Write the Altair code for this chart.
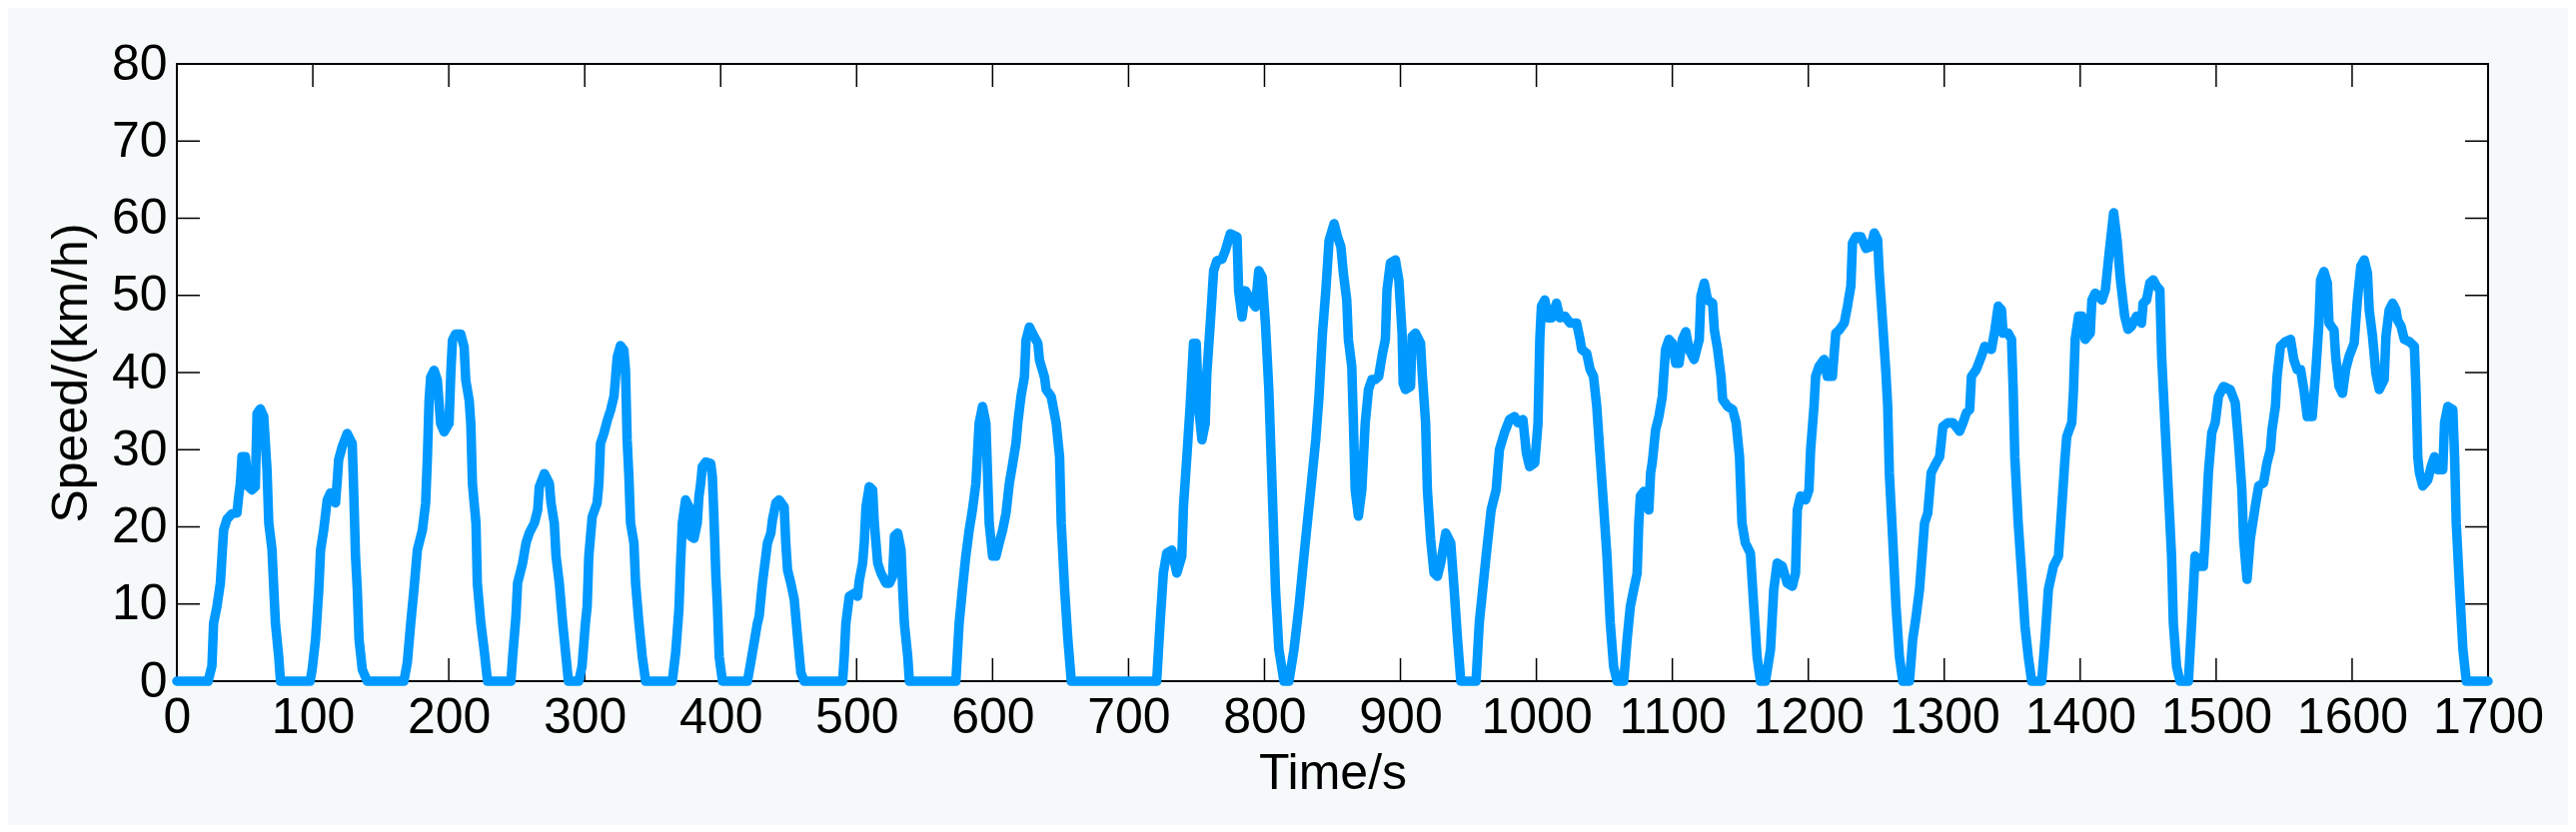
import altair as alt
import pandas as pd

# ---- data (time in s, speed in km/h) ----
TIME = [
    0, 23, 25.8, 27, 29.5, 32, 33.2, 34.4, 36.9, 40.5, 44.2, 45.5, 46.7, 47.9, 50.4, 52.8, 55.3, 57.7, 59, 61.4,
    63.9, 66.3, 67.6, 70, 71.3, 72.5, 74.9, 76.2,
    98, 99.5, 102, 104.4, 105.7, 108, 110.6, 113, 116.7, 118, 119, 121.6, 125.3, 129, 130.2, 131.4, 132.7, 134,
    136.4, 140,
    167, 169.5, 172, 174.4, 176.9, 180.6, 183, 184.3, 185.5, 186.7, 189.2, 191.6, 194, 196.6, 200.2, 201.5, 202.7,
    205, 208.8, 211.3, 212.5, 215, 216.2, 217.4, 220, 221, 223.6, 226, 228.5,
    245.7, 247, 249.4, 250.6, 254.3, 256.8, 259.2, 263, 265.4, 266.6, 270.3, 274, 275.2, 277.6, 278.9, 281.3,
    283.8, 286.2, 288,
    295.6, 298, 300.5, 301.8, 303, 305.5, 309.1, 310.4, 311.6, 314.1, 316.6, 319, 321.5, 322.7, 323.9, 326.3,
    328.8, 330, 331.2, 332.5, 333.7, 336.2, 337.4, 339.9, 342.3, 344.8,
    364.4, 366.9, 369.3, 370.5, 371.8, 374.2, 376.7, 377.9, 380.4, 382.8, 384, 385.3, 386.5, 389, 392.7, 393.9,
    395.2, 396.4, 397.6, 398.9, 401.3,
    419.7, 422.1, 424.6, 427, 428.3, 430.7, 433.2, 434.4, 436.9, 438.1, 440.6, 443, 446.7, 447.9, 449.2, 451.6,
    454.1, 456.5, 459, 461.4,
    489.7, 490.9, 492.1, 494.6, 498.3, 500.7, 502, 504.4, 505.6, 506.9, 509.3, 511.8, 513, 515.5, 517.9, 521.6,
    524.1, 526.5, 527.8, 530.2, 532.7, 533.9, 535.1, 537.6, 538.8,
    573, 575.4, 577.8, 580.3, 582.8, 585.2, 587.7, 590.1, 592.6, 595.1, 596.3, 597.5, 600, 602.5, 604.9, 607.4,
    609.9, 612.3, 614.8, 617.2, 618.5, 620.9, 623.4, 624.6, 627.1, 629.6, 633.3, 634.5, 638.2, 639.4, 643.1,
    646.8, 649.3, 650.5, 653, 655.4, 657.9,
    720.7, 723.2, 725.6, 728.1, 731.8, 735.5, 739.2, 740.4, 742.9, 745.3, 747.8, 749.8, 751.5, 754, 756.4, 757.6,
    760.1, 762.6, 765, 768.7, 771.2, 774.9, 779.8, 781, 783.5, 786, 789.7, 793.3, 795.8, 798.3, 800.7, 803.2,
    805.7, 808.1, 810.6, 814.3, 818, 821.7, 825.4, 829, 831.5, 834, 837.7, 840.1, 842.6, 845.1, 847.5, 851.2,
    853.7, 856.2,
    858, 860.5, 861.7, 864.2, 865.4, 866.7, 869.1, 871.6, 874.1, 876.5, 879, 881.5, 884, 886.4, 888.9, 890.1,
    892.6, 896.3, 898.8, 901.2, 902, 903.7, 907.4, 908.6, 911.1, 914.8, 916, 918.5, 919.8, 922.2, 924.7, 927.2,
    929.6, 933.3, 937, 939.5, 942, 944.4, 955.6, 958, 963, 966.7, 970.4, 972.8, 976.5, 980.2, 983.9, 986.4,
    990.1, 992.6, 995, 998.8, 1001.2, 1002.5, 1003.7, 1006.2, 1008.6, 1011.1, 1014.8, 1017.3, 1021, 1024.7,
    1029.6, 1032.1, 1033.3, 1037, 1039.5, 1042, 1044.4, 1046.9, 1049.4, 1051.9, 1054.3, 1056.8, 1059.3, 1064.2,
    1066.7, 1069.1, 1071.6, 1074.1, 1075.3, 1076.5, 1079, 1082.7, 1084, 1085.2, 1087.7, 1090.1, 1092.6, 1095,
    1097.5, 1100, 1102.5, 1104.9, 1107.4, 1109.9, 1112.3, 1116, 1119.8, 1121, 1123.5, 1125.9, 1129.6, 1130.9,
    1133.3, 1135.8, 1137, 1140.7, 1144.4, 1146.9, 1149.4,
    1151.2, 1153.7, 1157.4, 1159.9, 1162.3, 1164.8, 1168.5, 1172.2, 1174.6, 1177.1, 1180.8, 1184.5, 1188.2,
    1190.6, 1191.9, 1194.3, 1198, 1200.5, 1201.7, 1204.2, 1205.4, 1207.9, 1211.6, 1214, 1217.7, 1220.2, 1222.7,
    1226.4, 1228.8, 1231.3, 1232.5, 1235, 1238.7, 1242.4, 1246.1, 1248.5, 1251, 1252.2, 1254.7, 1257.1, 1258.4,
    1259.6, 1262.1, 1264.5, 1267, 1269.5, 1274.4, 1276.8, 1279.3, 1281.8, 1285.5, 1287.9, 1290.4, 1292.9,
    1296.6, 1299, 1302.7, 1306.4, 1311.3, 1313.8, 1316.3, 1318.7, 1320, 1323.6, 1327.3, 1329.8, 1334.7, 1337.2,
    1339.7, 1342.1, 1343.3, 1347, 1349.5, 1350.7, 1351.9, 1354.4, 1356.9, 1359.4, 1361.8, 1364.3, 1371.7,
    1374.1, 1376.6, 1380.3, 1384, 1386.5, 1388.9, 1390.1, 1393.8, 1395.1, 1396.3, 1398.8, 1401.2, 1403.7,
    1407.4, 1408.6, 1411.1, 1416, 1418.5, 1421, 1424.6, 1427.1, 1429.6,
    1432.7, 1435.2, 1437.7, 1441.4, 1445.1, 1446.3, 1448.8, 1451.2, 1453.7, 1456.2, 1458.6, 1459.9, 1462.3,
    1464.8, 1467.2, 1468.5, 1470.9, 1473.4, 1479.6, 1482, 1484.5, 1486.9, 1490.6, 1491.9, 1494.3, 1496.8,
    1499.3, 1501.7, 1505.4, 1510.3, 1514, 1516.5, 1518.9, 1520.2, 1522.7, 1525.1, 1528.8, 1531.3, 1534.9,
    1537.4, 1539.9, 1541.1, 1543.6, 1544.8, 1547.3, 1551, 1554.7, 1557.1, 1559.6, 1562.1, 1564.5, 1567, 1570.7,
    1573.2, 1575.6, 1576.8, 1579.3, 1581.8, 1583, 1586.7, 1587.9, 1590.4, 1592.9, 1595.3, 1597.8, 1601.5,
    1603.9, 1606.4, 1608.9, 1611.3, 1612.6, 1615, 1617.5, 1620, 1623.6, 1624.9, 1627.3, 1629.8, 1632.3, 1633.5,
    1636, 1638.4, 1642.1, 1645.8, 1647, 1648.3, 1649.5, 1652, 1655.7, 1658.1, 1660.6, 1663.1, 1666.7, 1668,
    1670.4, 1674.1, 1675.4, 1676.6, 1679.1, 1681.5, 1684, 1700,
]

SPEED = [
    0, 0, 2, 7.5, 9.7, 12.7, 16.2, 19.6, 21, 21.7, 21.8, 24, 25.6, 29.1, 29.1, 25.2, 24.8, 25.2, 34.7, 35.3,
    34.3, 27.4, 20.5, 17, 11.9, 7.5, 3.2, 0,
    0, 1.5, 5.4, 11.9, 17, 19.6, 23.5, 24.4, 23.1, 26.1, 28.7, 30.4, 32.1, 30.8, 23.9, 16.2, 11.9, 5.4,
    1.5, 0,
    0, 2.4, 7.5, 11.9, 17, 19.6, 23.1, 29.1, 36.4, 39.4, 40.3, 39, 33.4, 32.3, 33.4, 39.9, 44.2,
    45, 45, 43.3, 39, 36.4, 33.4, 25.6, 20.5, 12.7, 7.5, 4.1, 0,
    0, 3.2, 8.4, 12.7, 15.3, 17.9, 19.2, 20.5, 22.2, 25.2, 26.9, 25.6, 23.1, 20.5, 16.2, 12.7,
    7.5, 3.2, 0,
    0, 1.9, 7.5, 9.7, 16.2, 21.3, 23.1, 25.6, 30.8, 32.1, 33.8, 35.1, 36.9, 39.4, 42, 43.5,
    42.9, 40.3, 31.3, 26.5, 20.5, 17.9, 12.7, 7.5, 3.2, 0,
    0, 3.7, 9.3, 15.3, 20.5, 23.5, 22.6, 18.8, 18.5, 20.5, 23.9, 25.6, 27.8, 28.4, 28.2, 26.5,
    20.5, 14, 9.7, 3.2, 0,
    0, 2.4, 5, 7.5, 8.4, 12.7, 16.2, 17.9, 19.2, 20.9, 23.1, 23.5, 22.6, 17.9, 14.4, 12.7,
    10.6, 5.8, 1.1, 0,
    0, 3.2, 7.5, 11, 11.4, 11, 13.1, 15.3, 17.9, 22.6, 25.2, 24.8, 20.5, 15.3, 14, 12.7,
    12.7, 13.6, 18.8, 19.2, 17, 11.9, 7.5, 3.2, 0,
    0, 7.5, 11.9, 16.2, 19.6, 22.2, 25.6, 33.4, 35.6, 33.4, 26.9, 20.5, 16.2, 16.2, 17.9, 19.6,
    21.8, 25.6, 28.2, 30.8, 33.4, 36.9, 39.4, 44.2, 45.9, 45, 43.8, 41.6, 39.4, 37.8, 36.9,
    33.4, 29.1, 20.5, 11.9, 5.4, 0,
    0, 7.5, 14, 16.6, 17, 14, 16.2, 22.6, 29.1, 35.6, 43.8, 43.8, 35.6, 31.3, 33.4, 39.9,
    46.3, 53.2, 54.5, 54.7, 55.8, 58, 57.6, 50.6, 47.2, 50.6, 49.4, 48.5, 53.2, 52.4, 46.3, 37.8,
    24.8, 11.9, 4.1, 0, 0, 4.1, 9.7, 16.2, 20.5, 24.8, 31.3, 36.9, 45, 50.6, 57.1, 59.3,
    57.6, 56.3,
    52.9, 49.4, 44.3, 40.8, 33.5, 24.8, 21.4, 24.8, 33.5, 37.8, 39.1, 39.1, 39.5, 42.1, 44.3, 50.7,
    54.2, 54.6, 52, 45.1, 38.6, 37.8, 38.2, 44.7, 45.1, 43.8, 39.9, 33.5, 24.8, 18.4, 14, 13.6,
    15.3, 19.2, 17.9, 11.9, 5.4, 0, 0, 7.6, 16.2, 22.2, 24.8, 30, 32.2, 33.9, 34.3, 33.5,
    33.9, 29.6, 27.8, 28.3, 33.5, 44.3, 48.6, 49.4, 47.1, 47.1, 49, 47.1, 47.3, 46.4,
    46.4, 44.3, 43, 42.5, 40.4, 39.5, 35.6, 29.1, 22.7, 16.2, 7.6, 1.9, 0, 0,
    5.4, 9.7, 11.9, 14, 20.5, 24, 24.6, 22.2, 27, 28.3, 32.6, 34.3, 36.9, 43,
    44.3, 43.8, 41.2, 41.2, 44.3, 45.3, 43, 41.7, 44.3, 49.9, 51.6, 49.4, 49, 45.5,
    43, 39.5, 36.5, 35.6, 35.2, 33.5, 29.1,
    20.5, 17.9, 16.6, 9.7, 3.2, 0, 0, 4.1, 11.9, 15.3, 14.9, 12.7, 12.3,
    14, 22.2, 24, 23.5, 24.8, 30, 35.6, 39.5, 40.8, 41.7, 39.5, 39.5, 45.1, 45.5,
    46.4, 48.6, 51.2, 56.8, 57.6, 57.6, 56.1, 56.3, 58.1, 57.2, 52.9, 46.4, 39.9, 35.6,
    27, 18.4, 9.7, 3.2, 0, 0, 5.4, 8.4, 11.9, 20.5, 21.8, 27, 27.9,
    29.1, 33, 33.5, 33.5, 32.4, 33.5, 34.8, 35.2, 39.5, 40.4, 42.1, 43.4, 43, 45.5,
    48.6, 48.1, 45.1, 45.1, 44.3, 37.8, 29.1, 20.5, 14, 7.1, 3.2, 0, 0,
    5.4, 11.9, 14.9, 16.2, 22.7, 29.1, 31.7, 33.5, 37.8, 44.3, 47.3, 47.3, 44.3,
    45.1, 49.4, 50.3, 49.4, 50.7, 55, 60.7, 57.2, 52,
    47.3, 45.6, 46, 47.3, 46.4, 49, 49.4, 51.6, 52, 51.2, 50.7, 42.1, 33.5,
    24.8, 16.2, 7.6, 1.9, 0, 0, 7.6, 16.2, 14.9, 14.9, 18.4, 27, 32.2,
    33.5, 36.9, 38.2, 37.8, 36.1, 30.9, 24.8, 18.4, 13.2, 18.4, 22.7, 25.3, 25.7,
    28.3, 30, 32.6, 35.6, 39.5, 43.4, 44, 44.3, 41.7, 40.4, 40.4, 37.8, 34.3, 34.3,
    39.9, 46.4, 52, 53.1, 51.6, 46.4, 45.5, 42.1, 38.2, 37.3, 40.4, 42.1, 43.8,
    49.4, 53.8, 54.6, 52.9, 48.1, 44.7, 39.9, 37.8, 39.1, 44.7, 48.1, 49, 48.1, 46.8,
    46, 44.3, 44, 43.4, 37.8, 29.1, 27, 25.3, 26.1, 27.8, 29.1, 27.4, 27.4, 33.5,
    35.6, 35.2, 29.1, 20.5, 11.9, 4.1, 0, 0,
]

X_TICKS = list(range(0, 1701, 100))
Y_TICKS = list(range(0, 81, 10))

X_TITLE = "Time/s"
Y_TITLE = "Speed/(km/h)"

# ---- layout / style ----
W, H = 2313, 618
TICK_LEN = 23
FONT = "Liberation Sans"
FS = 50
LINE_COLOR = "#0099ff"
PANEL = "#f6f9fa"

df = pd.DataFrame({"t": TIME, "v": SPEED})
xt = pd.DataFrame({"t": X_TICKS})
yt = pd.DataFrame({"v": Y_TICKS})

x_scale = alt.Scale(domain=[0, 1700], nice=False, zero=False)
y_scale = alt.Scale(domain=[0, 80], nice=False)

x_axis = alt.Axis(
    values=X_TICKS, format="d", title=X_TITLE, grid=False, ticks=False, tickSize=0, domain=False,
    labelFontSize=FS, titleFontSize=FS, labelFont=FONT, titleFont=FONT,
    labelColor="black", titleColor="black", titleFontWeight="normal",
    labelBaseline="alphabetic", labelPadding=51, labelOverlap=False, labelFlush=False,
    titleBaseline="alphabetic", titleY=107, titleX=W / 2, titleAlign="center",
    zindex=1,
)
y_axis = alt.Axis(
    values=Y_TICKS, format="d", title=Y_TITLE, grid=False, ticks=False, tickSize=0, domain=False,
    labelFontSize=FS, titleFontSize=FS, labelFont=FONT, titleFont=FONT,
    labelColor="black", titleColor="black", titleFontWeight="normal",
    labelPadding=10, labelOverlap=False, labelFlush=False, labelBaseline="middle",
    titleAngle=270, titleBaseline="alphabetic", titleX=-91, titleY=H / 2, titleAlign="center",
    zindex=1,
)

X = alt.X("t:Q", scale=x_scale, axis=x_axis)
Y = alt.Y("v:Q", scale=y_scale, axis=y_axis)

tick_style = dict(color="black", strokeWidth=1.5)

bottom_ticks = alt.Chart(xt).mark_rule(**tick_style).encode(
    x=X, y=alt.value(H), y2=alt.value(H - TICK_LEN))
top_ticks = alt.Chart(xt).mark_rule(**tick_style).encode(
    x=X, y=alt.value(0), y2=alt.value(TICK_LEN))
left_ticks = alt.Chart(yt).mark_rule(**tick_style).encode(
    y=Y, x=alt.value(0), x2=alt.value(TICK_LEN))
right_ticks = alt.Chart(yt).mark_rule(**tick_style).encode(
    y=Y, x=alt.value(W - TICK_LEN), x2=alt.value(W))

line = alt.Chart(df).mark_line(
    color=LINE_COLOR, strokeWidth=9.5, strokeJoin="round", strokeCap="round"
).encode(x=X, y=Y)

chart = alt.layer(bottom_ticks, top_ticks, left_ticks, right_ticks, line).properties(
    width=W, height=H,
    autosize=alt.AutoSizeParams(type="none"),
    padding={"left": 169, "top": 56, "right": 80, "bottom": 144},
    background=PANEL,
).configure_view(
    fill="white", stroke="black", strokeWidth=2,
)

chart.save("out.html", embed_options={"renderer": "svg", "actions": False})
